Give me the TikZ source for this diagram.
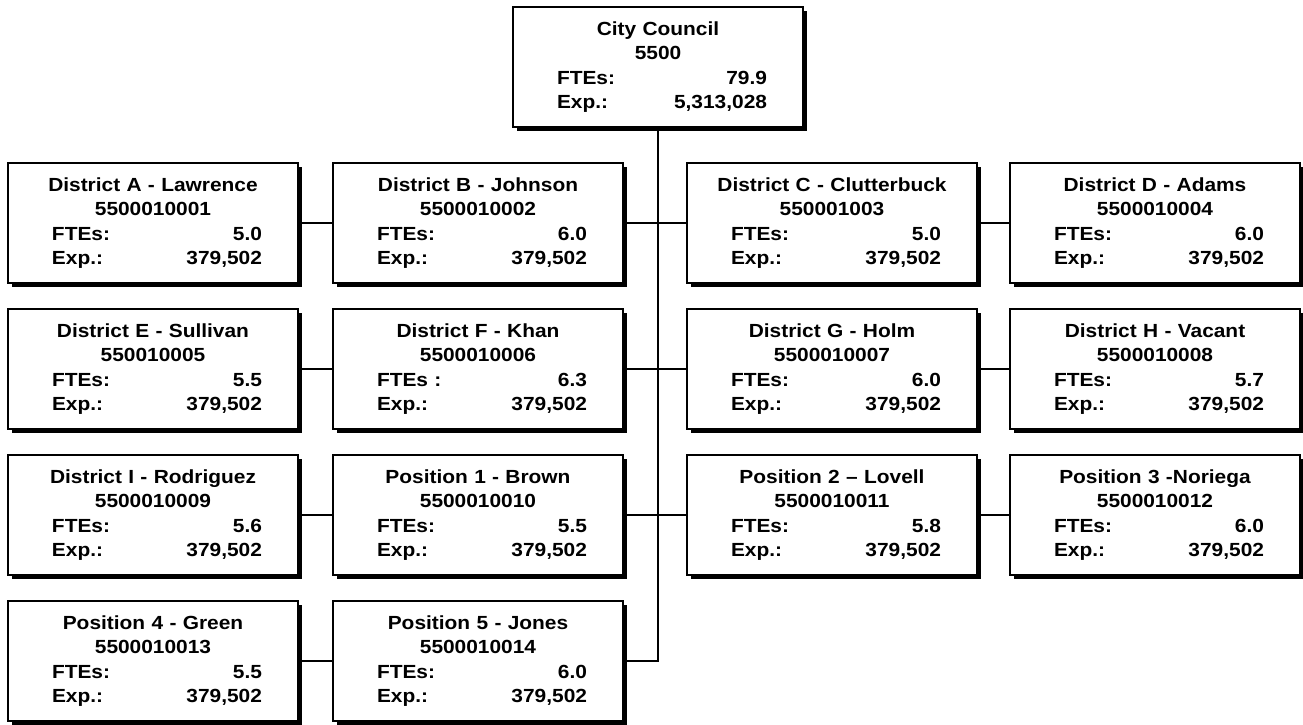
\documentclass[tikz,border=0pt]{standalone}
\usepackage{fontspec}
\setmainfont{Liberation Sans}[FakeStretch=1.1]
\usepackage{tikz}
\usetikzlibrary{shadows}
\newlength{\amtw}
\setlength{\amtw}{210pt}
\newcommand{\amt}[2]{\hspace*{8pt}\makebox[\amtw]{#1\hfill #2}}

\begin{document}
\begin{tikzpicture}[x=1pt,y=-1pt,
  unitbox/.style={draw=black, line width=1.6pt, fill=white, minimum width=290pt, minimum height=120pt,
    inner sep=0pt, text width=280pt, align=center, font=\fontsize{19}{24.5}\selectfont\bfseries,
    general shadow={fill=black, shadow xshift=4pt, shadow yshift=-4pt}},
  link/.style={line width=1.5pt}]
  \useasboundingbox (0,0) rectangle (1303,725);

  \node[unitbox] (council) at (658,67) {City Council\\5500\\\amt{FTEs:}{79.9}\\\amt{Exp.:}{5,313,028}};

  \node[unitbox] (distA) at (153,223) {District A - Lawrence\\5500010001\\\amt{FTEs:}{5.0}\\\amt{Exp.:}{379,502}};
  \node[unitbox] (distB) at (478,223) {District B - Johnson\\5500010002\\\amt{FTEs:}{6.0}\\\amt{Exp.:}{379,502}};
  \node[unitbox] (distC) at (832,223) {District C - Clutterbuck\\550001003\\\amt{FTEs:}{5.0}\\\amt{Exp.:}{379,502}};
  \node[unitbox] (distD) at (1155,223) {District D - Adams\\5500010004\\\amt{FTEs:}{6.0}\\\amt{Exp.:}{379,502}};

  \node[unitbox] (distE) at (153,369) {District E - Sullivan\\550010005\\\amt{FTEs:}{5.5}\\\amt{Exp.:}{379,502}};
  \node[unitbox] (distF) at (478,369) {District F - Khan\\5500010006\\\amt{FTEs :}{6.3}\\\amt{Exp.:}{379,502}};
  \node[unitbox] (distG) at (832,369) {District G - Holm\\5500010007\\\amt{FTEs:}{6.0}\\\amt{Exp.:}{379,502}};
  \node[unitbox] (distH) at (1155,369) {District H - Vacant\\5500010008\\\amt{FTEs:}{5.7}\\\amt{Exp.:}{379,502}};

  \node[unitbox] (distI) at (153,515) {District I - Rodriguez\\5500010009\\\amt{FTEs:}{5.6}\\\amt{Exp.:}{379,502}};
  \node[unitbox] (pos1) at (478,515) {Position 1 - Brown\\5500010010\\\amt{FTEs:}{5.5}\\\amt{Exp.:}{379,502}};
  \node[unitbox] (pos2) at (832,515) {Position 2 – Lovell\\5500010011\\\amt{FTEs:}{5.8}\\\amt{Exp.:}{379,502}};
  \node[unitbox] (pos3) at (1155,515) {Position 3 -Noriega\\5500010012\\\amt{FTEs:}{6.0}\\\amt{Exp.:}{379,502}};

  \node[unitbox] (pos4) at (153,661) {Position 4 - Green\\5500010013\\\amt{FTEs:}{5.5}\\\amt{Exp.:}{379,502}};
  \node[unitbox] (pos5) at (478,661) {Position 5 - Jones\\5500010014\\\amt{FTEs:}{6.0}\\\amt{Exp.:}{379,502}};

  % trunk and row links
  \draw[link] (council.south) -- (council.south |- pos5.east) -- (pos5.east);
  \draw[link] (distA.east) -- (distB.west);
  \draw[link] (distB.east) -- (distC.west);
  \draw[link] (distC.east) -- (distD.west);
  \draw[link] (distE.east) -- (distF.west);
  \draw[link] (distF.east) -- (distG.west);
  \draw[link] (distG.east) -- (distH.west);
  \draw[link] (distI.east) -- (pos1.west);
  \draw[link] (pos1.east) -- (pos2.west);
  \draw[link] (pos2.east) -- (pos3.west);
  \draw[link] (pos4.east) -- (pos5.west);
\end{tikzpicture}
\end{document}
